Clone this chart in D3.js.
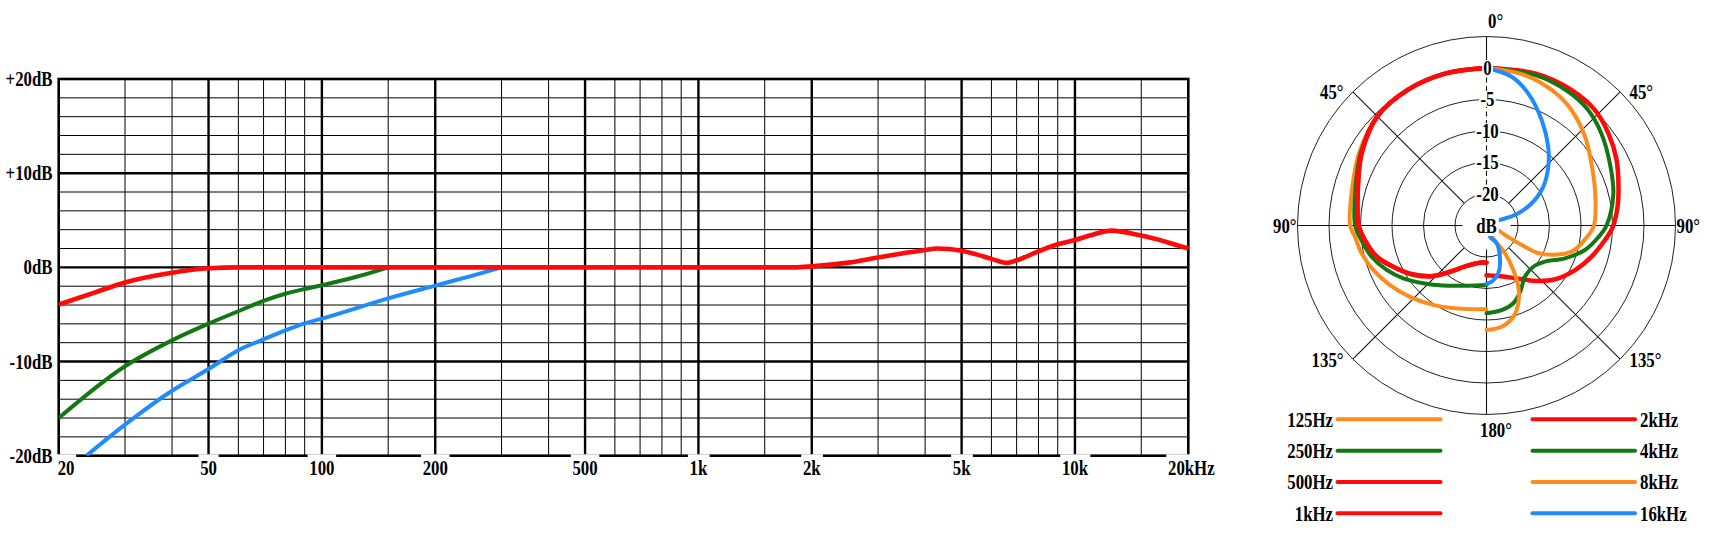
<!DOCTYPE html>
<html><head><meta charset="utf-8">
<script src="https://cdn.jsdelivr.net/npm/d3@7"></script>
<style>
html,body{margin:0;padding:0;background:#fff;}
svg{display:block;}
text{font-family:"Liberation Serif","Times New Roman",serif;font-weight:bold;font-size:20px;fill:#000;}
</style></head><body>
<svg id="c" width="1719" height="535"></svg>
<script>
// ---------- frequency response data ----------
const freqTickValues = [20, 50, 100, 200, 500, 1000, 2000, 5000, 10000, 20000];
const freqTickLabels = ["20", "50", "100", "200", "500", "1k", "2k", "5k", "10k", "20kHz"];
const freqMinorValues = [30, 40, 60, 70, 80, 90, 150, 300, 400, 600, 700, 800, 900, 1500, 3000, 4000, 6000, 7000, 8000, 9000, 15000];
const dbTickValues = [20, 10, 0, -10, -20];
const dbTickLabels = ["+20dB", "+10dB", "0dB", "-10dB", "-20dB"];

const mainFreq = [20, 25, 30, 40, 50, 60, 100, 1000, 1800, 2000, 2500, 3000, 3500, 4000, 4300, 5000, 5500, 6000, 6600, 7000, 8000, 9000, 10000, 11000, 12500, 15000, 17500, 20000];
const mainDb   = [-3.95, -2.65, -1.6, -0.57, -0.1, 0, 0, 0, 0, 0.1, 0.5, 1.05, 1.5, 1.85, 2.0, 1.77, 1.35, 0.9, 0.47, 0.75, 1.7, 2.45, 2.9, 3.4, 3.9, 3.37, 2.7, 2.0];
const cut150Freq = [20, 30, 40, 50, 60, 70, 80, 90, 100, 125, 150];
const cut150Db   = [-16, -10.5, -7.75, -5.98, -4.66, -3.55, -2.8, -2.3, -1.9, -0.95, 0];
const cut300Freq = [23.7, 30, 40, 50, 60, 70, 80, 90, 100, 150, 200, 250, 300];
const cut300Db   = [-20, -16.7, -13.1, -10.8, -8.8, -7.65, -6.7, -5.95, -5.45, -3.3, -1.94, -0.9, 0];

// ---------- polar data: [angle deg, dB] ----------
const polarRingValues = [-20, -15, -10, -5, 0, 5];
const polarRingLabels = ["-20", "-15", "-10", "-5", "0"];
const p125Hz = [[0,0],[15,0],[30,-0.1],[45,-0.5],[60,-1.7],[75,-2.9],[90,-3.35],[95,-4.05],[102.6,-4.7],[111.5,-5.7],[121.7,-7.0],[133,-8.4],[146,-9.8],[160,-11.0],[180,-11.7]];
const p250Hz = [[0,0],[15,0],[30,-0.1],[45,-0.5],[60,-1.95],[75,-3.45],[90,-4.15],[96.6,-5.0],[105.2,-6.1],[114,-7.65],[122.4,-9.35],[132.4,-11.4],[144.3,-13.25],[161.8,-14.95],[180,-15.56]];
const p500Hz = [[0,0],[15,0],[30,-0.1],[45,-0.5],[60,-2.1],[75,-3.85],[90,-4.7],[96.8,-5.55],[105.9,-6.9],[113.8,-8.8],[123.7,-11.0],[133.5,-13.35],[141.7,-15.65],[153.9,-17.85],[170,-19.0],[180,-19.1]];
const p1kHz  = [[0,0],[15,0],[30,-0.1],[45,-0.5],[60,-2.1],[75,-3.85],[90,-4.7],[96.8,-5.55],[105.9,-6.9],[113.8,-8.8],[123.7,-11.0],[133.5,-13.35],[141.7,-15.65],[153.9,-17.85],[170,-19.0],[180,-19.1]];
const p2kHz  = [[0,0],[18,0.35],[32,0.4],[43,0.15],[53,-0.75],[63,-1.85],[74,-3.2],[82,-4.0],[91,-5.0],[97,-6.05],[106.5,-7.6],[116.7,-9.25],[128,-11.15],[138.7,-13.3],[151.6,-15.5],[166.8,-16.75],[180,-17.1]];
const p4kHz  = [[0,0],[18,0.1],[31,-0.1],[41,-0.55],[51,-1.6],[63,-3.05],[76,-4.25],[90,-5.95],[96,-7.15],[104,-8.9],[112.7,-11.5],[121.7,-14.1],[131.4,-15.1],[143,-14.85],[153,-13.2],[161,-11.95],[170,-11.35],[180,-11.06]];
const p8kHz  = [[0,0],[14,-0.35],[26,-1.15],[36,-2.2],[48,-3.95],[59,-5.6],[73.5,-7.0],[90,-7.95],[98,-9.2],[107,-10.85],[113,-13.15],[118,-15.65],[119,-18.6],[117,-21.7],[108,-23.6],[130,-24.6],[152,-22.7],[146.4,-19.7],[149,-16.75],[152.5,-14.05],[157.8,-11.65],[163.6,-9.9],[171.5,-8.75],[180,-8.4]];
const p16kHz = [[0,0],[9.6,-1.05],[17.5,-3.0],[27.6,-6.1],[38,-9.1],[46.4,-11.45],[55.7,-14.1],[63.8,-17.0],[69.8,-20.2],[66,-23.5],[115,-24.6],[162.6,-23.1],[150.2,-21.75],[158.6,-19.1],[166.1,-17.2],[174.7,-16.05],[180,-15.76]];

const legendLeftLabels = ["125Hz", "250Hz", "500Hz", "1kHz"];
const legendRightLabels = ["2kHz", "4kHz", "8kHz", "16kHz"];

const ORANGE = "#ff8c1a", GREEN = "#137813", RED = "#ff0a0a", BLUE = "#1e8cff";

const polarSeries = [
  {data: p125Hz, side: -1, color: ORANGE},
  {data: p250Hz, side: -1, color: GREEN},
  {data: p500Hz, side: -1, color: RED},
  {data: p1kHz,  side: -1, color: RED},
  {data: p2kHz,  side: 1, color: RED},
  {data: p4kHz,  side: 1, color: GREEN},
  {data: p8kHz,  side: 1, color: ORANGE},
  {data: p16kHz, side: 1, color: BLUE}
];
const legendLeftColors = [ORANGE, GREEN, RED, RED];
const legendRightColors = [RED, GREEN, ORANGE, BLUE];

// ---------- helpers ----------
const svg = d3.select("#c");
const SX = 0.84;
function label(parent, x, y, s, anchor, bg) {
  const g = parent.append("g").attr("transform", `translate(${x},${y}) scale(${SX},1)`);
  const t = g.append("text").attr("text-anchor", anchor).text(s);
  if (bg) {
    const b = t.node().getBBox();
    g.insert("rect", "text")
      .attr("x", b.x - bg.px).attr("y", bg.top)
      .attr("width", b.width + 2 * bg.px).attr("height", bg.bottom - bg.top)
      .attr("fill", "#fff");
  }
  return g;
}

// ---------- frequency response chart ----------
const x = d3.scaleLog().domain([20, 20000]).range([58.7, 1188.3]);
const y = d3.scaleLinear().domain([-20, 20]).range([455.7, 79]);
const fr = svg.append("g");

const minorDb = d3.range(-18, 20, 2).filter(v => v % 10 !== 0);
fr.selectAll("line.hmin").data(minorDb).join("line")
  .attr("x1", x(20)).attr("x2", x(20000)).attr("y1", d => y(d)).attr("y2", d => y(d))
  .attr("stroke", "#000").attr("stroke-width", 1);
fr.selectAll("line.vmin").data(freqMinorValues).join("line")
  .attr("x1", d => x(d)).attr("x2", d => x(d)).attr("y1", y(-20)).attr("y2", y(20))
  .attr("stroke", "#000").attr("stroke-width", 1);
fr.selectAll("line.hmaj").data([10, 0, -10]).join("line")
  .attr("x1", x(20)).attr("x2", x(20000)).attr("y1", d => y(d)).attr("y2", d => y(d))
  .attr("stroke", "#000").attr("stroke-width", 2.4);
fr.selectAll("line.vmaj").data(freqTickValues.slice(1, -1)).join("line")
  .attr("x1", d => x(d)).attr("x2", d => x(d)).attr("y1", y(-20)).attr("y2", y(20))
  .attr("stroke", "#000").attr("stroke-width", 2.4);
fr.append("rect").attr("x", x(20)).attr("y", y(20))
  .attr("width", x(20000) - x(20)).attr("height", y(-20) - y(20))
  .attr("fill", "none").attr("stroke", "#000").attr("stroke-width", 2.6);

fr.append("clipPath").attr("id", "plotclip").append("rect")
  .attr("x", x(20)).attr("y", y(20) - 3).attr("width", x(20000) - x(20) + 3).attr("height", y(-20) - y(20) + 3);
const fline = d3.line().x(d => x(d[0])).y(d => y(d[1])).curve(d3.curveMonotoneX);
const curves = fr.append("g").attr("clip-path", "url(#plotclip)");
curves.append("path").datum(d3.zip(cut300Freq, cut300Db)).attr("d", fline)
  .attr("fill", "none").attr("stroke", BLUE).attr("stroke-width", 4);
curves.append("path").datum(d3.zip(cut150Freq, cut150Db)).attr("d", fline)
  .attr("fill", "none").attr("stroke", GREEN).attr("stroke-width", 4);
curves.append("path").datum(d3.zip(mainFreq, mainDb)).attr("d", fline)
  .attr("fill", "none").attr("stroke", RED).attr("stroke-width", 4.6);

// y labels
dbTickValues.forEach((v, i) => label(fr, 52.5, y(v) + 7, dbTickLabels[i], "end"));
// x labels
freqTickValues.forEach((v, i) => {
  let xx = x(v), anchor = "middle";
  if (i === 0) { xx = x(v) - 1; anchor = "start"; }
  if (i === freqTickValues.length - 1) { xx = x(v) + 3; }
  label(fr, xx, 475, freqTickLabels[i], anchor, {px: 2, top: 454.3 - 475, bottom: 4});
});

// ---------- polar chart ----------
const cx = 1486.5, cy = 225.5;
const r = d3.scaleLinear().domain([-25, 5]).range([0, 189]);
const R = r(5);
const pg = svg.append("g").attr("transform", `translate(${cx},${cy})`);

pg.selectAll("circle").data(polarRingValues).join("circle")
  .attr("r", d => r(d)).attr("fill", "none").attr("stroke", "#222").attr("stroke-width", 1);

const axisLine = (a, r0, r1) => {
  const t = a * Math.PI / 180;
  return pg.append("line")
    .attr("x1", r0 * Math.sin(t)).attr("y1", -r0 * Math.cos(t))
    .attr("x2", r1 * Math.sin(t)).attr("y2", -r1 * Math.cos(t))
    .attr("stroke", "#111").attr("stroke-width", 1.1);
};
axisLine(0, r(0), R);
axisLine(0, 24, r(0)).attr("stroke-dasharray", "5,3.5");
axisLine(180, 24, R);
axisLine(90, 24, R);
axisLine(-90, 24, R);
[45, 135, -45, -135].forEach(a => axisLine(a, r(-20), R));

const radial = d3.lineRadial().curve(d3.curveCatmullRom.alpha(0.5));
polarSeries.forEach(s => {
  radial.angle(d => s.side * d[0] * Math.PI / 180).radius(d => r(d[1]));
  pg.append("path").datum(s.data).attr("d", radial)
    .attr("fill", "none").attr("stroke", s.color)
    .attr("stroke-width", s.color === RED ? 4.5 : 4)
    .attr("stroke-linecap", "round").attr("stroke-linejoin", "round");
});

// ring labels
polarRingLabels.forEach((s, i) => {
  const yy = -r(polarRingValues[i]);
  label(pg, 1, yy + 6.5, s, "middle", {px: 1.5, top: -14.5, bottom: 1});
});
label(pg, 0, 7.5, "dB", "middle", {px: 2.5, top: -17.5, bottom: 3});

// angle labels
label(pg, 1.5, -R - 8.5, "0°", "start");
label(pg, -143, -126.5, "45°", "end");
label(pg, 143, -126.5, "45°", "start");
label(pg, -R - 1, 7.5, "90°", "end");
label(pg, R + 1, 7.5, "90°", "start");
label(pg, -143, 141.5, "135°", "end");
label(pg, 143, 141.5, "135°", "start");
label(pg, -6.5, R + 22.5, "180°", "start");

// ---------- legend ----------
const rowY = [419.3, 450.7, 482, 513.3];
const lg = svg.append("g");
legendLeftLabels.forEach((s, i) => {
  lg.append("line").attr("x1", 1337.5).attr("x2", 1440.5).attr("y1", rowY[i]).attr("y2", rowY[i])
    .attr("stroke", legendLeftColors[i]).attr("stroke-width", 4).attr("stroke-linecap", "round");
  label(lg, 1333, rowY[i] + 7.3, s, "end");
});
legendRightLabels.forEach((s, i) => {
  lg.append("line").attr("x1", 1532.5).attr("x2", 1635).attr("y1", rowY[i]).attr("y2", rowY[i])
    .attr("stroke", legendRightColors[i]).attr("stroke-width", 4).attr("stroke-linecap", "round");
  label(lg, 1640, rowY[i] + 7.3, s, "start");
});
</script>
</body></html>
